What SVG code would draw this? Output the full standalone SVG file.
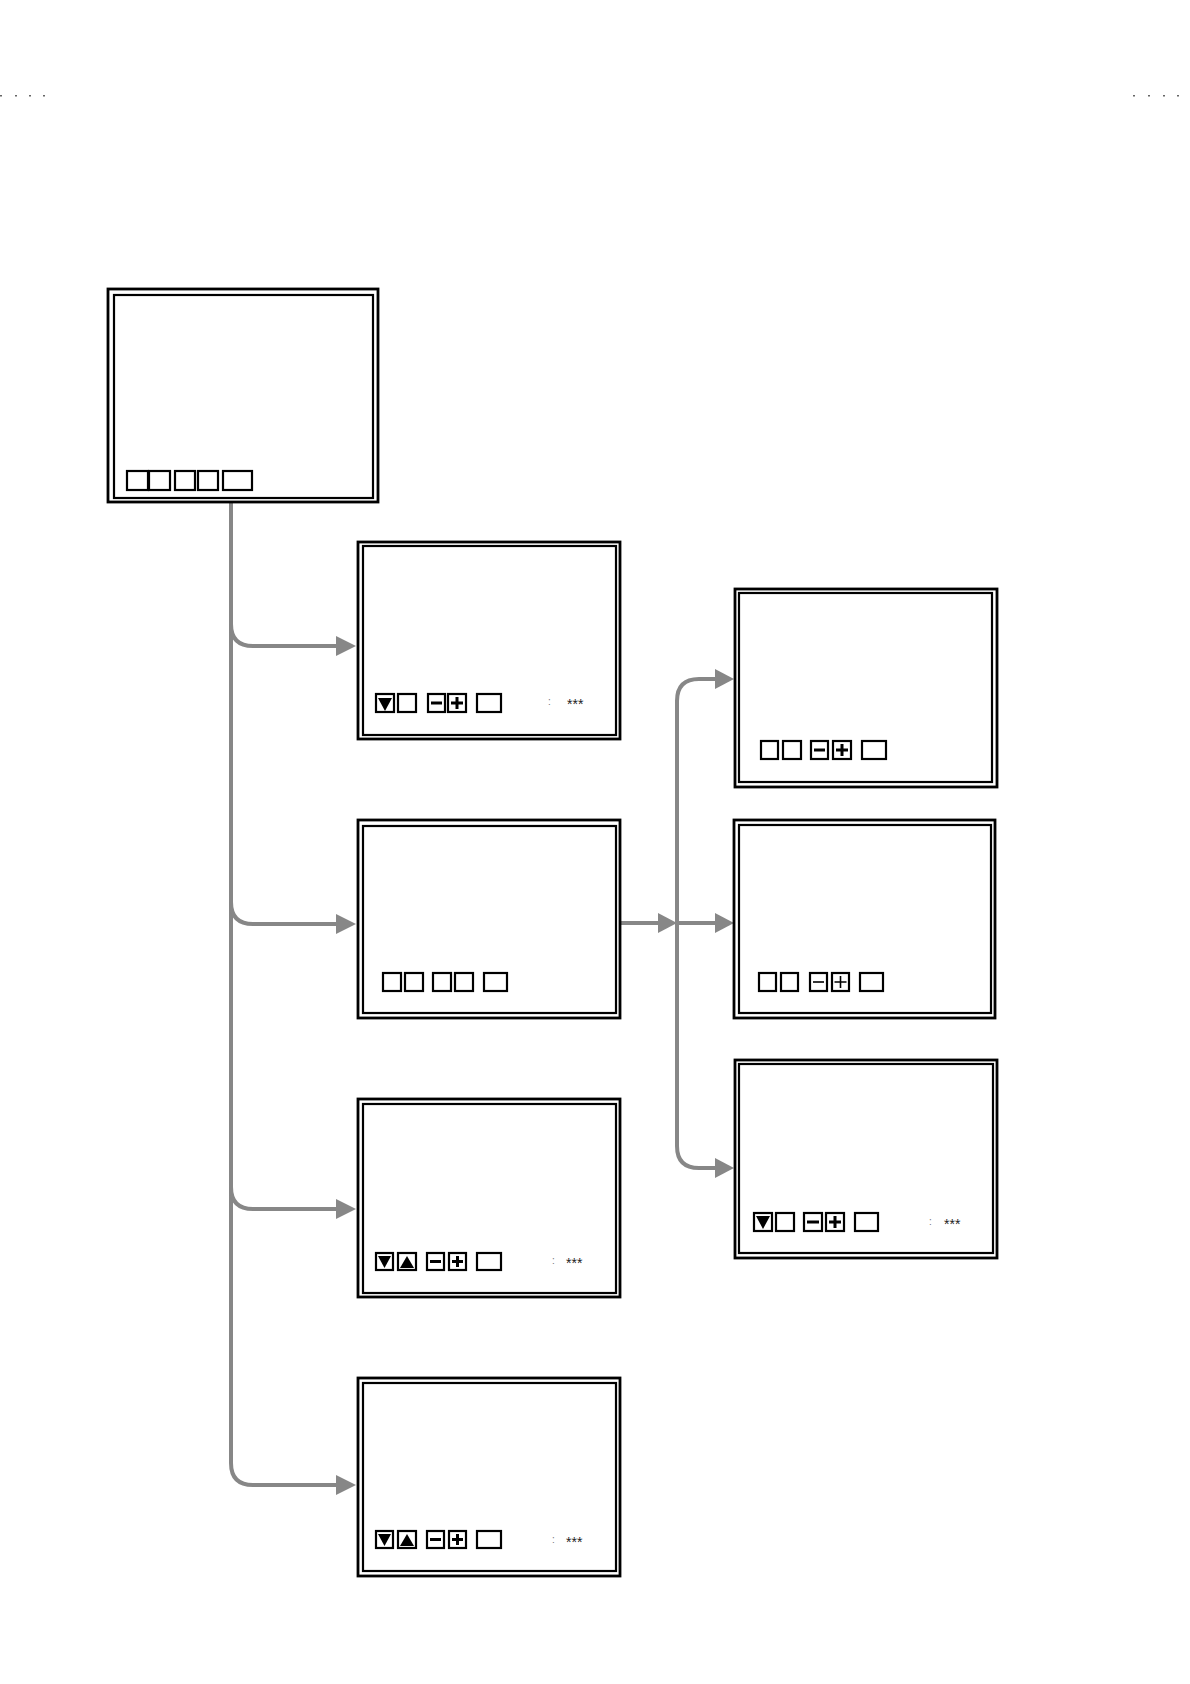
<svg xmlns="http://www.w3.org/2000/svg" width="1190" height="1684" viewBox="0 0 1190 1684">
<style>
.o{fill:none;stroke:#000;stroke-width:2.8}
.i{fill:none;stroke:#000;stroke-width:2.2}
.b{fill:#fff;stroke:#000;stroke-width:2.2}
.t{fill:#000;stroke:none}
.g{fill:#000;stroke:#000;stroke-width:3}
.gt{fill:none;stroke:#000;stroke-width:1.6}
.c{fill:none;stroke:#878787;stroke-width:4}
.h{fill:#878787;stroke:none}
.col{font-family:"Liberation Sans",Arial,sans-serif;font-size:10px;fill:#777}
.st{font-family:"Liberation Sans",Arial,sans-serif;font-size:14px;fill:#222}
.dot{fill:#666}
</style>
<rect width="1190" height="1684" fill="#fff"/>
<g id="marks">
<rect class="dot" x="0" y="95" width="2" height="1.5"/>
<rect class="dot" x="15" y="95" width="2" height="1.5"/>
<rect class="dot" x="29" y="95" width="2" height="1.5"/>
<rect class="dot" x="43" y="95" width="2" height="1.5"/>
<rect class="dot" x="1133" y="95" width="2" height="1.5"/>
<rect class="dot" x="1148" y="95" width="2" height="1.5"/>
<rect class="dot" x="1163" y="95" width="2" height="1.5"/>
<rect class="dot" x="1177" y="95" width="2" height="1.5"/>
</g>
<g id="connectors">
<path class="c" d="M231,503 V1463 Q231,1485 253,1485 H338"/>
<path class="c" d="M231,624 Q231,646 253,646 H338"/>
<path class="c" d="M231,902 Q231,924 253,924 H338"/>
<path class="c" d="M231,1187 Q231,1209 253,1209 H338"/>
<polygon class="h" points="336,636 356,646 336,656"/>
<polygon class="h" points="336,914 356,924 336,934"/>
<polygon class="h" points="336,1199 356,1209 336,1219"/>
<polygon class="h" points="336,1475 356,1485 336,1495"/>
<path class="c" d="M716,679 H699 Q677,679 677,701 V1146 Q677,1168 699,1168 H716"/>
<path class="c" d="M621,923 H660"/>
<path class="c" d="M677,923 H716"/>
<polygon class="h" points="715,669 734,679 715,689"/>
<polygon class="h" points="658,913 677,923 658,933"/>
<polygon class="h" points="715,913 734,923 715,933"/>
<polygon class="h" points="715,1158 734,1168 715,1178"/>
</g>
<g id="n1">
<rect class="o" x="108" y="289" width="270" height="213"/>
<rect class="i" x="114" y="295" width="259" height="203"/>
<rect class="b" x="127" y="471" width="21" height="19"/>
<rect class="b" x="149" y="471" width="21" height="19"/>
<rect x="147" y="471" width="3" height="19" fill="#000"/>
<rect class="b" x="175" y="471" width="20" height="19"/>
<rect class="b" x="198" y="471" width="20" height="19"/>
<rect class="b" x="223" y="471" width="29" height="19"/>
</g>
<g id="n2">
<rect class="o" x="358" y="542" width="262" height="197"/>
<rect class="i" x="363" y="546" width="253" height="189"/>
<rect class="b" x="376" y="694" width="18" height="18"/>
<polygon class="t" points="378,698 392,698 385,711"/>
<rect class="b" x="398" y="694" width="18" height="18"/>
<rect class="b" x="428" y="694" width="17" height="18"/>
<path class="g" d="M431,703 H442"/>
<rect class="b" x="448" y="694" width="18" height="18"/>
<path class="g" d="M451,703 H463 M457,697 V709"/>
<rect class="b" x="477" y="694" width="24" height="18"/>
<text class="col" x="548" y="705">:</text>
<text class="st" x="567" y="709">***</text>
</g>
<g id="n3">
<rect class="o" x="358" y="820" width="262" height="198"/>
<rect class="i" x="363" y="826" width="253" height="187"/>
<rect class="b" x="383" y="973" width="18" height="18"/>
<rect class="b" x="405" y="973" width="18" height="18"/>
<rect class="b" x="433" y="973" width="18" height="18"/>
<rect class="b" x="455" y="973" width="18" height="18"/>
<rect class="b" x="484" y="973" width="23" height="18"/>
</g>
<g id="n4">
<rect class="o" x="358" y="1099" width="262" height="198"/>
<rect class="i" x="363" y="1104" width="253" height="189"/>
<rect class="b" x="376" y="1253" width="17" height="17"/>
<polygon class="t" points="378,1256 391,1256 384.5,1268"/>
<rect class="b" x="398" y="1253" width="18" height="17"/>
<polygon class="t" points="400,1268 414,1268 407,1256"/>
<rect class="b" x="427" y="1253" width="17" height="17"/>
<path class="g" d="M430,1261.5 H441"/>
<rect class="b" x="449" y="1253" width="17" height="17"/>
<path class="g" d="M452,1261.5 H463 M457.5,1256 V1267"/>
<rect class="b" x="477" y="1253" width="24" height="17"/>
<text class="col" x="552" y="1264">:</text>
<text class="st" x="566" y="1268">***</text>
</g>
<g id="n5">
<rect class="o" x="358" y="1378" width="262" height="198"/>
<rect class="i" x="363" y="1383" width="253" height="188"/>
<rect class="b" x="376" y="1531" width="17" height="17"/>
<polygon class="t" points="378,1534 391,1534 384.5,1546"/>
<rect class="b" x="398" y="1531" width="18" height="17"/>
<polygon class="t" points="400,1546 414,1546 407,1534"/>
<rect class="b" x="427" y="1531" width="17" height="17"/>
<path class="g" d="M430,1539.5 H441"/>
<rect class="b" x="449" y="1531" width="17" height="17"/>
<path class="g" d="M452,1539.5 H463 M457.5,1534 V1545"/>
<rect class="b" x="477" y="1531" width="24" height="17"/>
<text class="col" x="552" y="1543">:</text>
<text class="st" x="566" y="1547">***</text>
</g>
<g id="n6">
<rect class="o" x="735" y="589" width="262" height="198"/>
<rect class="i" x="739" y="593" width="253" height="189"/>
<rect class="b" x="761" y="741" width="17" height="18"/>
<rect class="b" x="783" y="741" width="18" height="18"/>
<rect class="b" x="811" y="741" width="17" height="18"/>
<path class="g" d="M814,750 H825"/>
<rect class="b" x="833" y="741" width="18" height="18"/>
<path class="g" d="M836,750 H848 M842,744 V756"/>
<rect class="b" x="862" y="741" width="24" height="18"/>
</g>
<g id="n7">
<rect class="o" x="734" y="820" width="261" height="198"/>
<rect class="i" x="739" y="825" width="252" height="188"/>
<rect class="b" x="759" y="973" width="17" height="18"/>
<rect class="b" x="781" y="973" width="17" height="18"/>
<rect class="b" x="810" y="973" width="17" height="18"/>
<path class="gt" d="M813,982 H824"/>
<rect class="b" x="832" y="973" width="17" height="18"/>
<path class="gt" d="M834.5,982 H846.5 M840.5,976 V988"/>
<rect class="b" x="860" y="973" width="23" height="18"/>
</g>
<g id="n8">
<rect class="o" x="735" y="1060" width="262" height="198"/>
<rect class="i" x="739" y="1064" width="254" height="189"/>
<rect class="b" x="754" y="1213" width="18" height="18"/>
<polygon class="t" points="756,1216 770,1216 763,1229"/>
<rect class="b" x="776" y="1213" width="18" height="18"/>
<rect class="b" x="804" y="1213" width="18" height="18"/>
<path class="g" d="M807,1222 H819"/>
<rect class="b" x="826" y="1213" width="18" height="18"/>
<path class="g" d="M829,1222 H841 M835,1216 V1228"/>
<rect class="b" x="855" y="1213" width="23" height="18"/>
<text class="col" x="929" y="1225">:</text>
<text class="st" x="944" y="1229">***</text>
</g>
</svg>
